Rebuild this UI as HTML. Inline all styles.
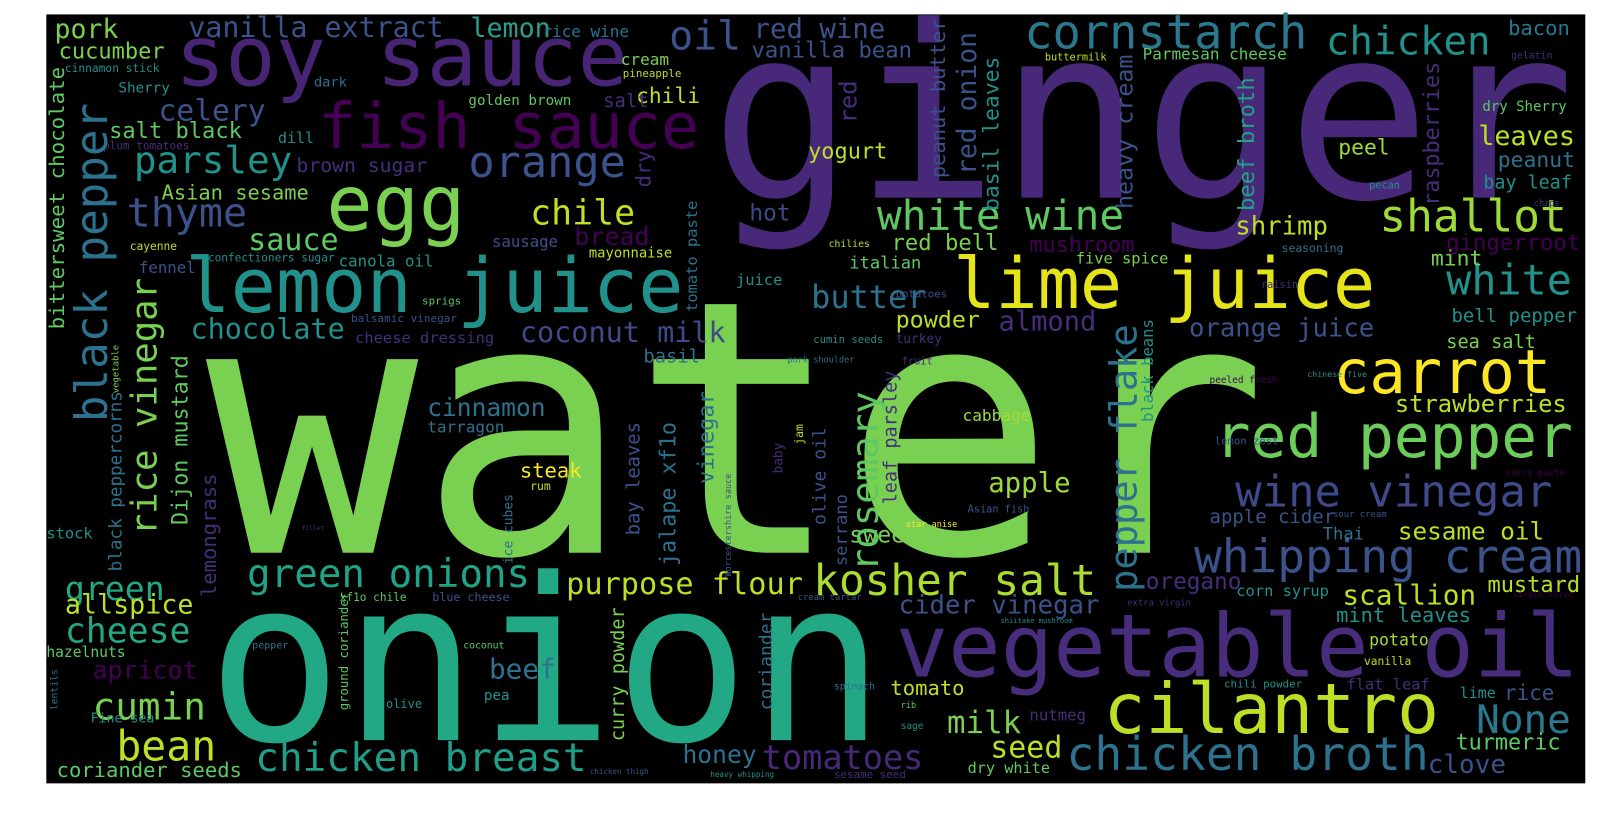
<!DOCTYPE html>
<html><head><meta charset="utf-8"><style>
html,body{margin:0;padding:0;background:#fff;}
svg{display:block}
text{font-family:"DejaVu Sans Mono","Liberation Mono",monospace;}
</style></head><body>
<svg width="1614" height="818" viewBox="0 0 1614 818" xmlns="http://www.w3.org/2000/svg">
<g id="cloud" transform="scale(1.0294)">
<rect x="45" y="14" width="1495" height="747" fill="#000"/>
<text x="200" y="537" textLength="1032" fill="#7ad151">water</text>
<text x="690" y="192" textLength="840" fill="#482878">ginger</text>
<text x="201" y="719" textLength="659" fill="#22a884">onion</text>
<text x="870" y="657" textLength="664" fill="#472d7b">vegetable oil</text>
<text x="170" y="83" textLength="440" fill="#482475">soy sauce</text>
<text x="180" y="303" textLength="484" fill="#21918c">lemon juice</text>
<text x="926" y="299" textLength="410" fill="#e5e419">lime juice</text>
<text x="317" y="224" textLength="135" fill="#7ad151">egg</text>
<text x="309" y="144" textLength="370" fill="#440154">fish sauce</text>
<text x="1072" y="712" textLength="326" fill="#bddf26">cilantro</text>
<text x="1295" y="382" textLength="212" fill="#fde725">carrot</text>
<text x="1180" y="444" textLength="348" fill="#6ccd5a">red pepper</text>
<text x="1036" y="748" textLength="352" fill="#2c728e">chicken broth</text>
<text x="1160" y="556" textLength="377" fill="#3b528b">whipping cream</text>
<text x="1200" y="492" textLength="308" fill="#3e4a89">wine vinegar</text>
<text x="995" y="47" textLength="275" fill="#2a788e">cornstarch</text>
<text x="1288" y="53" textLength="160" fill="#21918c">chicken</text>
<text x="455" y="172" textLength="153" fill="#3b528b">orange</text>
<text x="515" y="218" textLength="102" fill="#c2df23">chile</text>
<text x="1340" y="225" textLength="182" fill="#a0da39">shallot</text>
<text x="852" y="223" textLength="240" fill="#5ec962">white wine</text>
<text x="1405" y="286" textLength="122" fill="#21918c">white</text>
<text x="790" y="578" textLength="275" fill="#addc30">kosher salt</text>
<text x="240" y="570" textLength="275" fill="#20a386">green onions</text>
<text x="63" y="583" textLength="97" fill="#22a884">green</text>
<text x="63" y="624" textLength="122" fill="#22a884">cheese</text>
<text x="248" y="749" textLength="322" fill="#1f9e89">chicken breast</text>
<text x="740" y="747" textLength="157" fill="#482878">tomatoes</text>
<text x="550" y="577" textLength="230" fill="#bddf26">purpose flour</text>
<text x="123" y="220" textLength="117" fill="#3b528b">thyme</text>
<text x="130" y="168" textLength="154" fill="#21918c">parsley</text>
<text x="154" y="117" textLength="104" fill="#3b528b">celery</text>
<text x="650" y="48" textLength="70" fill="#3b528b">oil</text>
<text x="788" y="299" textLength="112" fill="#2c728e">butter</text>
<text x="505" y="332" textLength="200" fill="#3e4a89">coconut milk</text>
<text x="185" y="329" textLength="150" fill="#21918c">chocolate</text>
<text x="241" y="243" textLength="88" fill="#5ec962">sauce</text>
<text x="90" y="699" textLength="110" fill="#7ad151">cumin</text>
<text x="113" y="739" textLength="97" fill="#bddf26">bean</text>
<text x="90" y="659" textLength="102" fill="#440154">apricot</text>
<text x="63" y="596" textLength="125" fill="#bddf26">allspice</text>
<text x="1434" y="712" textLength="92" fill="#2a788e">None</text>
<text x="1387" y="751" textLength="76" fill="#3b528b">clove</text>
<text x="962" y="736" textLength="70" fill="#bddf26">seed</text>
<text x="920" y="712" textLength="72" fill="#7ad151">milk</text>
<text x="663" y="741" textLength="72" fill="#2c728e">honey</text>
<text x="475" y="659" textLength="65" fill="#2c728e">beef</text>
<text x="865" y="675" textLength="72" fill="#bddf26">tomato</text>
<text x="1358" y="524" textLength="142" fill="#bddf26">sesame oil</text>
<text x="1304" y="587" textLength="130" fill="#bddf26">scallion</text>
<text x="1445" y="575" textLength="90" fill="#bddf26">mustard</text>
<text x="1410" y="313" textLength="122" fill="#21918c">bell pepper</text>
<text x="1155" y="327" textLength="180" fill="#3b528b">orange juice</text>
<text x="1355" y="400" textLength="167" fill="#bddf26">strawberries</text>
<text x="1405" y="338" textLength="87" fill="#7ad151">sea salt</text>
<text x="1436" y="141" textLength="94" fill="#bddf26">leaves</text>
<text x="1455" y="162" textLength="75" fill="#2c728e">peanut</text>
<text x="1441" y="183" textLength="86" fill="#21918c">bay leaf</text>
<text x="1465" y="34" textLength="60" fill="#2a788e">bacon</text>
<text x="1390" y="258" textLength="50" fill="#7ad151">mint</text>
<text x="1405" y="243" textLength="130" fill="#440154">gingerroot</text>
<text x="1200" y="228" textLength="90" fill="#bddf26">shrimp</text>
<text x="866" y="243" textLength="104" fill="#7ad151">red bell</text>
<text x="1000" y="245" textLength="102" fill="#440154">mushroom</text>
<text x="825" y="261" textLength="70" fill="#5ec962">italian</text>
<text x="970" y="321" textLength="95" fill="#472d7b">almond</text>
<text x="870" y="318" textLength="82" fill="#bddf26">powder</text>
<text x="960" y="478" textLength="80" fill="#a0da39">apple</text>
<text x="825" y="527" textLength="68" fill="#7ad151">sweet</text>
<text x="873" y="596" textLength="195" fill="#3b528b">cider vinegar</text>
<text x="1113" y="572" textLength="93" fill="#472d7b">oregano</text>
<text x="785" y="154" textLength="77" fill="#bddf26">yogurt</text>
<text x="728" y="214" textLength="40" fill="#3e4a89">hot</text>
<text x="732" y="37" textLength="128" fill="#3b528b">red wine</text>
<text x="730" y="56" textLength="156" fill="#3b528b">vanilla bean</text>
<text x="183" y="36" textLength="248" fill="#3b528b">vanilla extract</text>
<text x="457" y="36" textLength="78" fill="#2c9e8c">lemon</text>
<text x="53" y="37" textLength="62" fill="#7ad151">pork</text>
<text x="57" y="57" textLength="103" fill="#7ad151">cucumber</text>
<text x="157" y="194" textLength="143" fill="#7ad151">Asian sesame</text>
<text x="288" y="167" textLength="127" fill="#472d7b">brown sugar</text>
<text x="106" y="134" textLength="129" fill="#5ec962">salt black</text>
<text x="558" y="238" textLength="73" fill="#440154">bread</text>
<text x="618" y="100" textLength="62" fill="#bddf26">chili</text>
<text x="586" y="104" textLength="44" fill="#472d7b">salt</text>
<text x="715" y="277" textLength="45" fill="#21918c">juice</text>
<text x="625" y="352" textLength="55" fill="#2c728e">basil</text>
<text x="415" y="404" textLength="115" fill="#2c728e">cinnamon</text>
<text x="415" y="420" textLength="75" fill="#2c728e">tarragon</text>
<text x="505" y="464" textLength="60" fill="#fde725">steak</text>
<text x="1300" y="150" textLength="50" fill="#a0da39">peel</text>
<text x="1440" y="108" textLength="82" fill="#5ec962">dry Sherry</text>
<text x="1298" y="604" textLength="131" fill="#21918c">mint leaves</text>
<text x="1330" y="627" textLength="58" fill="#a0da39">potato</text>
<text x="1461" y="680" textLength="49" fill="#3b528b">rice</text>
<text x="1418" y="678" textLength="35" fill="#21918c">lime</text>
<text x="1414" y="728" textLength="102" fill="#5ec962">turmeric</text>
<text x="1175" y="508" textLength="122" fill="#3b528b">apple cider</text>
<text x="1285" y="524" textLength="40" fill="#2c728e">Thai</text>
<text x="935" y="409" textLength="66" fill="#a0da39">cabbage</text>
<text x="940" y="751" textLength="80" fill="#5ec962">dry white</text>
<text x="55" y="755" textLength="180" fill="#5ec962">coriander seeds</text>
<text x="1000" y="700" textLength="55" fill="#472d7b">nutmeg</text>
<text x="470" y="680" textLength="25" fill="#21918c">pea</text>
<text x="375" y="688" textLength="35" fill="#21918c">olive</text>
<text x="330" y="584" textLength="65" fill="#5ec962">xf1o chile</text>
<text x="420" y="584" textLength="75" fill="#3b528b">blue cheese</text>
<text x="45" y="523" textLength="45" fill="#21918c">stock</text>
<text x="45" y="638" textLength="77" fill="#5ec962">hazelnuts</text>
<text x="88" y="702" textLength="62" fill="#21918c">Fine sea</text>
<text x="115" y="90" textLength="50" fill="#21918c">Sherry</text>
<text x="305" y="84" textLength="32" fill="#2c728e">dark</text>
<text x="270" y="139" textLength="35" fill="#21918c">dill</text>
<text x="603" y="63" textLength="47" fill="#7ad151">cream</text>
<text x="527" y="36" textLength="84" fill="#2c728e">rice wine</text>
<text x="455" y="102" textLength="100" fill="#5ec962">golden brown</text>
<text x="605" y="75" textLength="57" fill="#bddf26">pineapple</text>
<text x="478" y="240" textLength="64" fill="#3b528b">sausage</text>
<text x="572" y="250" textLength="81" fill="#bddf26">mayonnaise</text>
<text x="329" y="259" textLength="92" fill="#21918c">canola oil</text>
<text x="135" y="265" textLength="55" fill="#3b528b">fennel</text>
<text x="126" y="243" textLength="46" fill="#bddf26">cayenne</text>
<text x="202" y="254" textLength="123" fill="#21918c">confectioners sugar</text>
<text x="345" y="333" textLength="135" fill="#472d7b">cheese dressing</text>
<text x="410" y="296" textLength="38" fill="#5ec962">sprigs</text>
<text x="341" y="313" textLength="103" fill="#3b528b">balsamic vinegar</text>
<text x="790" y="333" textLength="68" fill="#21918c">cumin seeds</text>
<text x="870" y="333" textLength="45" fill="#472d7b">turkey</text>
<text x="765" y="352" textLength="65" fill="#2c728e">pork shoulder</text>
<text x="1045" y="256" textLength="90" fill="#7ad151">five spice</text>
<text x="1245" y="245" textLength="60" fill="#2c728e">seasoning</text>
<text x="1225" y="280" textLength="36" fill="#472d7b">raisin</text>
<text x="805" y="240" textLength="40" fill="#bddf26">chilies</text>
<text x="870" y="289" textLength="50" fill="#3b528b">potatoes</text>
<text x="876" y="354" textLength="30" fill="#472d7b">fruit</text>
<text x="515" y="476" textLength="20" fill="#bddf26">rum</text>
<text x="940" y="498" textLength="60" fill="#3b528b">Asian fish</text>
<text x="880" y="512" textLength="50" fill="#fde725">star anise</text>
<text x="1270" y="366" textLength="58" fill="#21918c">chinese five</text>
<text x="1175" y="372" textLength="66" fill="#440154">peeled fresh</text>
<text x="1180" y="432" textLength="62" fill="#3b528b">lemon zest</text>
<text x="1295" y="502" textLength="52" fill="#3b528b">sour cream</text>
<text x="1463" y="462" textLength="57" fill="#440154">curry paste</text>
<text x="1201" y="579" textLength="90" fill="#21918c">corn syrup</text>
<text x="1095" y="588" textLength="62" fill="#472d7b">extra virgin</text>
<text x="1470" y="580" textLength="58" fill="#440154">virgin olive</text>
<text x="972" y="605" textLength="70" fill="#21918c">shiitake mushroom</text>
<text x="775" y="583" textLength="62" fill="#3b528b">cream tartar</text>
<text x="810" y="670" textLength="40" fill="#2c728e">spinach</text>
<text x="875" y="688" textLength="15" fill="#5ec962">rib</text>
<text x="875" y="708" textLength="22" fill="#21918c">sage</text>
<text x="1189" y="668" textLength="76" fill="#21918c">chili powder</text>
<text x="1308" y="670" textLength="81" fill="#472d7b">flat leaf</text>
<text x="1325" y="646" textLength="46" fill="#bddf26">vanilla</text>
<text x="690" y="755" textLength="62" fill="#21918c">heavy whipping</text>
<text x="810" y="756" textLength="70" fill="#472d7b">sesame seed</text>
<text x="573" y="752" textLength="57" fill="#3b528b">chicken thigh</text>
<text x="450" y="630" textLength="40" fill="#5ec962">coconut</text>
<text x="245" y="630" textLength="35" fill="#2c728e">pepper</text>
<text x="293" y="515" textLength="22" fill="#472d7b">fillet</text>
<text x="63" y="70" textLength="92" fill="#21918c">cinnamon stick</text>
<text x="100" y="145" textLength="84" fill="#472d7b">plum tomatoes</text>
<text x="1490" y="200" textLength="25" fill="#472d7b">chips</text>
<text x="1468" y="57" textLength="40" fill="#472d7b">gelatin</text>
<text x="1330" y="183" textLength="30" fill="#21918c">pecan</text>
<text x="1015" y="59" textLength="60" fill="#bddf26">buttermilk</text>
<text x="1110" y="58" textLength="140" fill="#5ec962">Parmesan cheese</text>
<!-- vertical words: x = baseline, y = bottom end -->
<text x="104" y="410" textLength="310" fill="#2c728e" transform="rotate(-90 104 410)">black pepper</text>
<text x="152" y="520" textLength="250" fill="#7ad151" transform="rotate(-90 152 520)">rice vinegar</text>
<text x="1104" y="575" textLength="260" fill="#2c728e" transform="rotate(-90 1104 575)">pepper flake</text>
<text x="853" y="555" textLength="175" fill="#5ec962" transform="rotate(-90 853 555)">rosemary</text>
<text x="693" y="470" textLength="90" fill="#2c728e" transform="rotate(-90 693 470)">vinegar</text>
<text x="656" y="550" textLength="140" fill="#2c728e" transform="rotate(-90 656 550)">jalape xf1o</text>
<text x="621" y="520" textLength="110" fill="#3b528b" transform="rotate(-90 621 520)">bay leaves</text>
<text x="606" y="720" textLength="130" fill="#7ad151" transform="rotate(-90 606 720)">curry powder</text>
<text x="182" y="510" textLength="165" fill="#5ec962" transform="rotate(-90 182 510)">Dijon mustard</text>
<text x="210" y="580" textLength="120" fill="#472d7b" transform="rotate(-90 210 580)">lemongrass</text>
<text x="750" y="690" textLength="95" fill="#2c728e" transform="rotate(-90 750 690)">coriander</text>
<text x="802" y="510" textLength="95" fill="#3b528b" transform="rotate(-90 802 510)">olive oil</text>
<text x="871" y="490" textLength="130" fill="#472d7b" transform="rotate(-90 871 490)">leaf parsley</text>
<text x="918" y="173" textLength="155" fill="#3b528b" transform="rotate(-90 918 173)">peanut butter</text>
<text x="948" y="170" textLength="139" fill="#3b528b" transform="rotate(-90 948 170)">red onion</text>
<text x="970" y="205" textLength="150" fill="#21918c" transform="rotate(-90 970 205)">basil leaves</text>
<text x="1100" y="203" textLength="150" fill="#3b528b" transform="rotate(-90 1100 203)">heavy cream</text>
<text x="1218" y="205" textLength="130" fill="#20a386" transform="rotate(-90 1218 205)">beef broth</text>
<text x="1120" y="410" textLength="100" fill="#21918c" transform="rotate(-90 1120 410)">black beans</text>
<text x="1398" y="200" textLength="140" fill="#472d7b" transform="rotate(-90 1398 200)">raspberries</text>
<text x="832" y="120" textLength="42" fill="#472d7b" transform="rotate(-90 832 120)">red</text>
<text x="632" y="182" textLength="36" fill="#472d7b" transform="rotate(-90 632 182)">dry</text>
<text x="62" y="320" textLength="255" fill="#5ec962" transform="rotate(-90 62 320)">bittersweet chocolate</text>
<text x="118" y="555" textLength="175" fill="#2c728e" transform="rotate(-90 118 555)">black peppercorns</text>
<text x="823" y="550" textLength="70" fill="#3b528b" transform="rotate(-90 823 550)">serrano</text>
<text x="338" y="690" textLength="115" fill="#5ec962" transform="rotate(-90 338 690)">ground coriander</text>
<text x="710" y="560" textLength="100" fill="#3b528b" transform="rotate(-90 710 560)">Worcestershire sauce</text>
<text x="498" y="548" textLength="68" fill="#2c728e" transform="rotate(-90 498 548)">ice cubes</text>
<text x="760" y="460" textLength="30" fill="#472d7b" transform="rotate(-90 760 460)">baby</text>
<text x="780" y="432" textLength="20" fill="#bddf26" transform="rotate(-90 780 432)">jam</text>
<text x="677" y="303" textLength="108" fill="#2c728e" transform="rotate(-90 677 303)">tomato paste</text>
<text x="115" y="382" textLength="47" fill="#7ad151" transform="rotate(-90 115 382)">vegetable</text>
<text x="56" y="690" textLength="40" fill="#2c728e" transform="rotate(-90 56 690)">lentils</text>
</g>
</svg>
<script>
// monospace: font-size derived from the measured span of each word
document.querySelectorAll('#cloud text').forEach(function (t) {
  var L = parseFloat(t.getAttribute('textLength'));
  var n = t.textContent.length;
  t.setAttribute('font-size', (L / (0.6 * n)).toFixed(1));
  t.setAttribute('lengthAdjust', 'spacingAndGlyphs');
});
</script>
</body></html>
